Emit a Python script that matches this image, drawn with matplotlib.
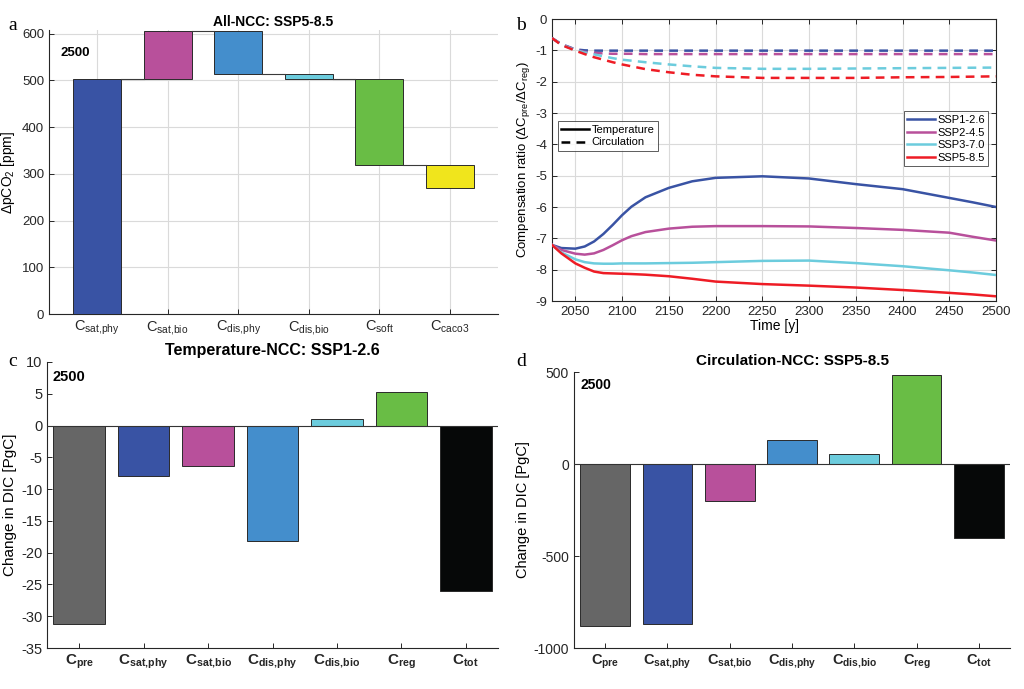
import numpy as np
import matplotlib
matplotlib.use('Agg')
import matplotlib.pyplot as plt
from matplotlib.lines import Line2D

plt.rcParams['font.family'] = ['Liberation Sans', 'DejaVu Sans']
plt.rcParams['mathtext.default'] = 'regular'
plt.rcParams['axes.unicode_minus'] = False

# ---------------- data ----------------
# Panel a: waterfall (All-NCC, SSP5-8.5)
a_labels = [r'C$_{sat{,}phy}$', r'C$_{sat{,}bio}$', r'C$_{dis{,}phy}$',
            r'C$_{dis{,}bio}$', r'C$_{soft}$', r'C$_{caco3}$']
a_increments = [503, 102, -91, -10, -184, -51]

# Panel b: compensation ratio time series
years = [2025, 2035, 2050, 2060, 2070, 2080, 2090, 2100, 2110, 2125, 2150, 2175,
         2200, 2250, 2300, 2350, 2400, 2450, 2475, 2500]
ssp_names = ['SSP1-2.6', 'SSP2-4.5', 'SSP3-7.0', 'SSP5-8.5']
temp_ssp126 = [-7.21, -7.31, -7.33, -7.26, -7.10, -6.86, -6.57, -6.26, -5.99, -5.69, -5.39, -5.18,
               -5.07, -5.02, -5.09, -5.27, -5.43, -5.71, -5.85, -6.00]
temp_ssp245 = [-7.21, -7.37, -7.49, -7.52, -7.48, -7.37, -7.22, -7.06, -6.93, -6.80, -6.69, -6.63,
               -6.61, -6.61, -6.62, -6.67, -6.73, -6.82, -6.95, -7.07]
temp_ssp370 = [-7.21, -7.45, -7.67, -7.76, -7.80, -7.81, -7.81, -7.80, -7.80, -7.80, -7.79, -7.78,
               -7.76, -7.72, -7.71, -7.79, -7.89, -8.02, -8.09, -8.17]
temp_ssp585 = [-7.21, -7.48, -7.80, -7.94, -8.06, -8.11, -8.12, -8.13, -8.14, -8.16, -8.21, -8.29,
               -8.38, -8.46, -8.51, -8.57, -8.65, -8.74, -8.79, -8.85]
circ_ssp126 = [-0.61, -0.80, -0.97, -1.00, -1.01, -1.01, -1.01, -1.01, -1.01, -1.01, -1.01, -1.01,
               -1.01, -1.01, -1.01, -1.01, -1.01, -1.01, -1.01, -1.01]
circ_ssp245 = [-0.61, -0.81, -0.98, -1.05, -1.08, -1.10, -1.11, -1.11, -1.11, -1.12, -1.12, -1.12,
               -1.12, -1.12, -1.12, -1.12, -1.12, -1.12, -1.12, -1.12]
circ_ssp370 = [-0.61, -0.82, -0.99, -1.07, -1.13, -1.19, -1.25, -1.30, -1.33, -1.38, -1.45, -1.51,
               -1.56, -1.59, -1.59, -1.58, -1.57, -1.56, -1.555, -1.55]
circ_ssp585 = [-0.61, -0.83, -1.01, -1.12, -1.22, -1.30, -1.38, -1.45, -1.51, -1.60, -1.70, -1.78,
               -1.83, -1.88, -1.88, -1.88, -1.86, -1.85, -1.84, -1.83]

# Panels c & d: DIC change components
cd_labels = [r'C$_{pre}$', r'C$_{sat{,}phy}$', r'C$_{sat{,}bio}$', r'C$_{dis{,}phy}$',
             r'C$_{dis{,}bio}$', r'C$_{reg}$', r'C$_{tot}$']
c_values = [-31.25, -7.97, -6.29, -18.1, 1.1, 5.24, -26.0]
d_values = [-879, -870, -201, 132, 54, 482, -402]

# ---------------- styles ----------------
c_pre = '#666666'
c_satphy = '#3953A4'
c_satbio = '#B8509B'
c_disphy = '#448ECC'
c_disbio = '#6CCCDD'
c_reg = '#69BD45'
c_caco3 = '#F0E51C'
c_tot = '#060808'
ssp_colors = [c_satphy, c_satbio, c_disbio, '#EE1C25']
a_colors = [c_satphy, c_satbio, c_disphy, c_disbio, c_reg, c_caco3]
cd_colors = [c_pre, c_satphy, c_satbio, c_disphy, c_disbio, c_reg, c_tot]
grid_col = '#dadada'
spine_col = '#262626'
edge_col = '#2a2a2a'

fig = plt.figure(figsize=(10.24, 6.89), dpi=100)

def style_axes(ax, box=False):
    for s in ['top', 'right']:
        ax.spines[s].set_visible(box)
    for s in ax.spines.values():
        s.set_color(spine_col)
        s.set_linewidth(0.8)
    ax.tick_params(direction='in', length=3.5, width=0.7, colors=spine_col,
                   top=box, right=box)

# ---------------- panel a ----------------
axa = fig.add_axes([49/1024, 1-314/689, 449/1024, 284/689])
inc = np.array(a_increments, dtype=float)
cum = np.cumsum(inc)
bottoms = cum - inc
xa = np.arange(1, len(inc)+1)
wa = 0.68
axa.bar(xa, inc, bottom=bottoms, width=wa, color=a_colors, edgecolor=edge_col,
        linewidth=0.7, zorder=3)
for i in range(len(inc)-1):
    axa.plot([xa[i]+wa/2, xa[i+1]-wa/2], [cum[i], cum[i]], color='#3a3a3a', lw=0.8, zorder=3)
axa.set_xlim(0.32, 6.68)
axa.set_ylim(0, 608)
axa.set_yticks(np.arange(0, 601, 100))
axa.set_xticks(xa)
axa.set_xticklabels(a_labels, fontsize=10.5)
axa.tick_params(axis='y', labelsize=9.5)
axa.grid(True, color=grid_col, lw=0.8, zorder=0)
axa.set_axisbelow(True)
style_axes(axa)
axa.set_ylabel('ΔpCO$_2$ [ppm]', fontsize=10)
axa.yaxis.set_label_coords(-0.072, 0.5)
axa.set_title('All-NCC: SSP5-8.5', fontsize=10, fontweight='bold', pad=3)
axa.text(0.025, 0.92, '2500', transform=axa.transAxes, fontsize=9.5, fontweight='bold',
         va='center', ha='left')

# ---------------- panel b ----------------
axb = fig.add_axes([552/1024, 1-301/689, 444/1024, 282/689])
temp_series = [temp_ssp126, temp_ssp245, temp_ssp370, temp_ssp585]
circ_series = [circ_ssp126, circ_ssp245, circ_ssp370, circ_ssp585]
for name, col, ts, cs in zip(ssp_names, ssp_colors, temp_series, circ_series):
    axb.plot(years, ts, color=col, lw=1.8, ls='-', zorder=3)
    axb.plot(years, cs, color=col, lw=1.8, ls=(0, (3.5, 2.5)), zorder=3)
axb.set_xlim(2025, 2500)
axb.set_ylim(-9, 0)
axb.set_xticks(np.arange(2050, 2501, 50))
axb.set_yticks(np.arange(-9, 1, 1))
axb.tick_params(labelsize=9.5)
axb.grid(True, color=grid_col, lw=0.8, zorder=0)
axb.set_axisbelow(True)
style_axes(axb, box=True)
axb.set_xlabel('Time [y]', fontsize=10, labelpad=1)
axb.set_ylabel('Compensation ratio (ΔC$_{pre}$/ΔC$_{reg}$)', fontsize=9.5)
axb.yaxis.set_label_coords(-0.045, 0.5)

style_handles = [Line2D([0], [0], color='black', lw=1.8, ls='-'),
                 Line2D([0], [0], color='black', lw=1.8, ls=(0, (3.5, 2.5)))]
leg1 = axb.legend(style_handles, ['Temperature', 'Circulation'], loc='upper left',
                  bbox_to_anchor=(0.0135, 0.637), fontsize=8, frameon=True, fancybox=False,
                  edgecolor='#333333', handlelength=2.5, handletextpad=0.2,
                  borderpad=0.3, labelspacing=0.25, borderaxespad=0)
leg1.get_frame().set_linewidth(0.7)
axb.add_artist(leg1)
ssp_handles = [Line2D([0], [0], color=c, lw=1.8) for c in ssp_colors]
leg2 = axb.legend(ssp_handles, ssp_names, loc='upper right', bbox_to_anchor=(0.983, 0.672),
                  fontsize=8, frameon=True, fancybox=False, edgecolor='#333333',
                  handlelength=2.5, handletextpad=0.2, borderpad=0.3, labelspacing=0.25,
                  borderaxespad=0)
leg2.get_frame().set_linewidth(0.7)

# ---------------- panel c ----------------
axc = fig.add_axes([47/1024, 1-648/689, 451/1024, 286/689])
xc = np.arange(1, len(c_values)+1)
axc.bar(xc, c_values, width=0.8, color=cd_colors, edgecolor=edge_col, linewidth=0.7, zorder=3)
axc.axhline(0, color='#333333', lw=0.8, zorder=4)
axc.set_xlim(0.5, 7.5)
axc.set_ylim(-35, 10)
axc.set_yticks(np.arange(-35, 11, 5))
axc.set_xticks(xc)
axc.set_xticklabels(cd_labels, fontsize=11, fontweight='bold')
axc.tick_params(axis='y', labelsize=10.5)
style_axes(axc)
axc.set_ylabel('Change in DIC [PgC]', fontsize=11)
axc.yaxis.set_label_coords(-0.066, 0.5)
axc.set_title('Temperature-NCC: SSP1-2.6', fontsize=11.5, fontweight='bold', pad=5)
axc.text(0.013, 0.947, '2500', transform=axc.transAxes, fontsize=10.5, fontweight='bold',
         va='center', ha='left')

# ---------------- panel d ----------------
axd = fig.add_axes([574/1024, 1-648/689, 436/1024, 276/689])
xd = np.arange(1, len(d_values)+1)
axd.bar(xd, d_values, width=0.8, color=cd_colors, edgecolor=edge_col, linewidth=0.7, zorder=3)
axd.axhline(0, color='#333333', lw=0.8, zorder=4)
axd.set_xlim(0.5, 7.5)
axd.set_ylim(-1000, 500)
axd.set_yticks([-1000, -500, 0, 500])
axd.set_xticks(xd)
axd.set_xticklabels(cd_labels, fontsize=10.5, fontweight='bold')
axd.tick_params(axis='y', labelsize=10)
style_axes(axd)
axd.set_ylabel('Change in DIC [PgC]', fontsize=10.5)
axd.yaxis.set_label_coords(-0.10, 0.5)
axd.set_title('Circulation-NCC: SSP5-8.5', fontsize=11, fontweight='bold', pad=5)
axd.text(0.016, 0.953, '2500', transform=axd.transAxes, fontsize=10, fontweight='bold',
         va='center', ha='left')

# ---------------- panel letters ----------------
for lab, x, y in [('a', 8, 25), ('b', 516, 25), ('c', 8, 362), ('d', 516, 362)]:
    fig.text(x/1024, 1-y/689, lab, fontsize=14, family='Liberation Serif', va='center', ha='left')

fig.savefig('out.png', dpi=100)
